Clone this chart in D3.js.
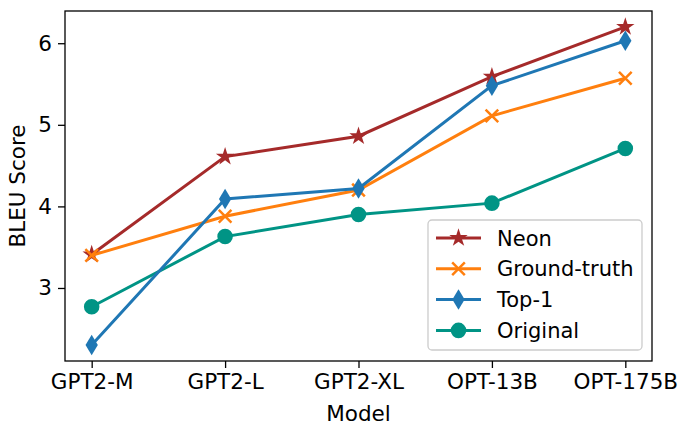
<!DOCTYPE html>
<html>
<head>
<meta charset="utf-8">
<script src="https://cdn.jsdelivr.net/npm/d3@7"></script>
<style>
  body { margin: 0; background: #fff; }
  text { font-family: "DejaVu Sans", sans-serif; fill: #000; }
</style>
</head>
<body>
<svg id="chart" width="679" height="426"></svg>
<script>
// data
const models = ["GPT2-M", "GPT2-L", "GPT2-XL", "OPT-13B", "OPT-175B"];
const neon = [3.41, 4.61, 4.86, 5.59, 6.20];
const groundTruth = [3.40, 3.88, 4.20, 5.11, 5.57];
const top1 = [2.30, 4.09, 4.22, 5.48, 6.03];
const original = [2.77, 3.63, 3.90, 4.04, 4.71];
const yTicks = [3, 4, 5, 6];

var svg = d3.select("#chart"),
    margin = { top: 11, right: 27, bottom: 65, left: 65 },
    width = svg.attr("width") - margin.left - margin.right,
    height = svg.attr("height") - margin.top - margin.bottom,
    g = svg.append("g").attr("transform", "translate(" + margin.left + "," + margin.top + ")");

const x = d3.scalePoint().domain(models).range([0, width]).padding(0.2);
const y = d3.scaleLinear().domain([2.105, 6.395]).range([height, 0]);

// custom marker shapes (matplotlib-ish)
const thinDiamond = {
  draw(ctx, size) {
    const h = Math.sqrt(size) * 0.5, w = h * 0.6;
    ctx.moveTo(0, -h); ctx.lineTo(w, 0); ctx.lineTo(0, h); ctx.lineTo(-w, 0); ctx.closePath();
  }
};
const xMark = {
  draw(ctx, size) {
    const r = Math.sqrt(size) * 0.5;
    ctx.moveTo(-r, -r); ctx.lineTo(r, r);
    ctx.moveTo(r, -r); ctx.lineTo(-r, r);
  }
};

const series = [
  { name: "Neon", values: neon, color: "#a52a2a", shape: d3.symbolStar, size: 105, filled: true },
  { name: "Ground-truth", values: groundTruth, color: "#ff7f0e", shape: xMark, size: 160, filled: false },
  { name: "Top-1", values: top1, color: "#1f77b4", shape: thinDiamond, size: 420, filled: true },
  { name: "Original", values: original, color: "#009485", shape: d3.symbolCircle, size: 190, filled: true }
];
const drawOrder = ["Neon", "Ground-truth", "Original", "Top-1"];

// axes
const xAxis = g.append("g")
  .attr("transform", "translate(0," + height + ")")
  .call(d3.axisBottom(x).tickSize(7).tickPadding(6));
const yAxis = g.append("g")
  .call(d3.axisLeft(y).tickValues(yTicks).tickFormat(d3.format("d")).tickSize(7).tickPadding(6));

[xAxis, yAxis].forEach(a => {
  a.select(".domain").remove();
  a.selectAll(".tick line").attr("stroke", "#000").attr("stroke-width", 1.3);
  a.selectAll(".tick text").style("font-size", "21.5px").attr("fill", "#000");
});

// frame
g.append("rect")
  .attr("width", width).attr("height", height)
  .attr("fill", "none").attr("stroke", "#000").attr("stroke-width", 1.3);

const line = d3.line().x((d, i) => x(models[i])).y(d => y(d));

drawOrder.forEach(function(nm) {
  const s = series.find(d => d.name == nm);
  g.append("path")
    .datum(s.values)
    .attr("fill", "none")
    .attr("stroke", s.color)
    .attr("stroke-width", 3)
    .attr("d", line);
  g.selectAll(null)
    .data(s.values)
    .enter()
    .append("path")
      .attr("transform", (d, i) => "translate(" + x(models[i]) + "," + y(d) + ")")
      .attr("d", d3.symbol().type(s.shape).size(s.size))
      .attr("fill", s.filled ? s.color : "none")
      .attr("stroke", s.filled ? "none" : s.color)
      .attr("stroke-width", 2.5);
});

// axis titles
svg.append("text")
  .attr("x", margin.left + width / 2)
  .attr("y", 421)
  .attr("text-anchor", "middle")
  .style("font-size", "21.5px")
  .text("Model");
svg.append("text")
  .attr("transform", "translate(25," + (margin.top + height / 2) + ") rotate(-90)")
  .attr("text-anchor", "middle")
  .style("font-size", "21.5px")
  .text("BLEU Score");

// legend
const legend = svg.append("g").attr("transform", "translate(428,220)");
legend.append("rect")
  .attr("width", 214).attr("height", 130)
  .attr("rx", 4)
  .attr("fill", "#fff").attr("fill-opacity", 0.8)
  .attr("stroke", "#cccccc").attr("stroke-width", 1.3);

series.forEach(function(s, i) {
  const row = legend.append("g").attr("transform", "translate(0," + (18 + i * 30.8) + ")");
  row.append("line")
    .attr("x1", 8).attr("x2", 53)
    .attr("stroke", s.color).attr("stroke-width", 3);
  row.append("path")
    .attr("transform", "translate(30.5,0)")
    .attr("d", d3.symbol().type(s.shape).size(s.size))
    .attr("fill", s.filled ? s.color : "none")
    .attr("stroke", s.filled ? "none" : s.color)
    .attr("stroke-width", 2.5);
  row.append("text")
    .attr("x", 69)
    .attr("dy", "0.36em")
    .style("font-size", "21px")
    .text(s.name);
});
</script>
</body>
</html>
